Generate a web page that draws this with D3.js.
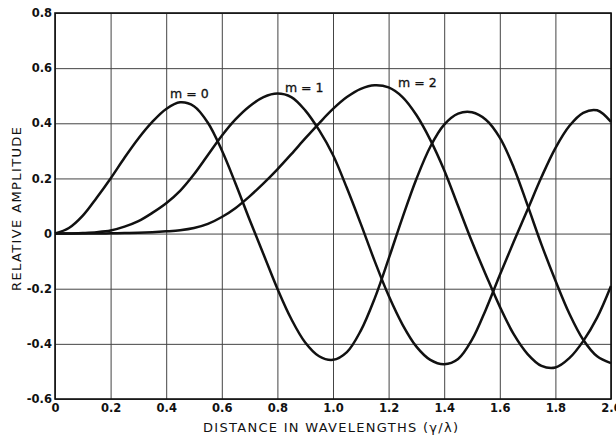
<!DOCTYPE html>
<html>
<head>
<meta charset="utf-8">
<script src="https://cdn.jsdelivr.net/npm/d3@7"></script>
<style>
  html, body { margin: 0; padding: 0; background: #fff; }
  svg { display: block; }
</style>
</head>
<body>
<svg id="chart" width="616" height="436"></svg>
<script>
// Distance from the source, in wavelengths (r/λ)
const distance = [
  0.00, 0.05, 0.10, 0.15, 0.20, 0.25, 0.30, 0.35, 0.40, 0.45,
  0.50, 0.55, 0.60, 0.65, 0.70, 0.75, 0.80, 0.85, 0.90, 0.95,
  1.00, 1.05, 1.10, 1.15, 1.20, 1.25, 1.30, 1.35, 1.40, 1.45,
  1.50, 1.55, 1.60, 1.65, 1.70, 1.75, 1.80, 1.85, 1.90, 1.95, 2.00
];

// Relative amplitude for each mode order m
const amplitudeM0 = [
  0.000, 0.020, 0.065, 0.130, 0.200, 0.275, 0.345, 0.405, 0.452, 0.476,
  0.462, 0.402, 0.302, 0.180, 0.050, -0.075, -0.200, -0.310, -0.395, -0.445,
  -0.458, -0.430, -0.352, -0.235, -0.092, 0.058, 0.198, 0.315, 0.395, 0.435,
  0.440, 0.413, 0.348, 0.240, 0.102, -0.040, -0.170, -0.290, -0.385, -0.445, -0.470
];
const amplitudeM1 = [
  0.000, 0.000, 0.002, 0.005, 0.011, 0.025, 0.045, 0.075, 0.110, 0.155,
  0.215, 0.285, 0.355, 0.415, 0.462, 0.495, 0.508, 0.495, 0.447, 0.375,
  0.285, 0.165, 0.035, -0.100, -0.225, -0.330, -0.410, -0.458, -0.474, -0.455,
  -0.385, -0.275, -0.150, -0.030, 0.087, 0.205, 0.310, 0.390, 0.438, 0.447, 0.405
];
const amplitudeM2 = [
  0.000, 0.000, 0.000, 0.000, 0.001, 0.002, 0.003, 0.005, 0.008, 0.012,
  0.020, 0.035, 0.060, 0.093, 0.135, 0.182, 0.233, 0.288, 0.345, 0.400,
  0.452, 0.495, 0.525, 0.538, 0.530, 0.495, 0.430, 0.340, 0.230, 0.100,
  -0.030, -0.150, -0.265, -0.365, -0.437, -0.480, -0.486, -0.452, -0.390, -0.305, -0.190
];

const seriesLabels = ["m = 0", "m = 1", "m = 2"];

// Axis ticks
const xTickValues = [0, 0.2, 0.4, 0.6, 0.8, 1.0, 1.2, 1.4, 1.6, 1.8, 2.0];
const xTickLabels = ["0", "0.2", "0.4", "0.6", "0.8", "1.0", "1.2", "1.4", "1.6", "1.8", "2.0"];
const yTickValues = [-0.6, -0.4, -0.2, 0, 0.2, 0.4, 0.6, 0.8];
const yTickLabels = ["-0.6", "-0.4", "-0.2", "0", "0.2", "0.4", "0.6", "0.8"];

const svg = d3.select("#chart");
const plotLeft = 55, plotRight = 611, plotTop = 13, plotBottom = 399;

const x = d3.scaleLinear().domain([0, 2]).range([plotLeft, plotRight]);
const y = d3.scaleLinear().domain([-0.6, 0.8]).range([plotBottom, plotTop]);

const font = "'DejaVu Sans', 'Liberation Sans', sans-serif";

// Vertical grid + x tick labels
const xAxis = svg.append("g")
  .attr("transform", `translate(0,${plotBottom})`)
  .call(d3.axisBottom(x)
    .tickValues(xTickValues)
    .tickFormat((d, i) => xTickLabels[i])
    .tickSize(-(plotBottom - plotTop))
    .tickPadding(5));
xAxis.select(".domain").remove();
xAxis.selectAll(".tick line").attr("stroke", "#444").attr("stroke-width", 1);
xAxis.selectAll(".tick text")
  .attr("font-family", font).attr("font-size", 11.5).attr("font-weight", "bold")
  .attr("fill", "#111");

// Horizontal grid + y tick labels
const yAxis = svg.append("g")
  .attr("transform", `translate(${plotLeft},0)`)
  .call(d3.axisLeft(y)
    .tickValues(yTickValues)
    .tickFormat((d, i) => yTickLabels[i])
    .tickSize(-(plotRight - plotLeft))
    .tickPadding(3));
yAxis.select(".domain").remove();
yAxis.selectAll(".tick line").attr("stroke", "#444").attr("stroke-width", 1);
yAxis.selectAll(".tick text")
  .attr("font-family", font).attr("font-size", 11.5).attr("font-weight", "bold")
  .attr("fill", "#111");

// Plot frame
svg.append("rect")
  .attr("x", plotLeft).attr("y", plotTop)
  .attr("width", plotRight - plotLeft).attr("height", plotBottom - plotTop)
  .attr("fill", "none").attr("stroke", "#111").attr("stroke-width", 1.6);

// Curves
const series = [amplitudeM0, amplitudeM1, amplitudeM2];
const line = d3.line()
  .x(d => x(d[0]))
  .y(d => y(d[1]))
  .curve(d3.curveCatmullRom.alpha(0.5));

svg.append("g").selectAll("path")
  .data(series)
  .join("path")
  .attr("d", vals => line(distance.map((r, i) => [r, vals[i]])))
  .attr("fill", "none")
  .attr("stroke", "#111")
  .attr("stroke-width", 2.5)
  .attr("stroke-linejoin", "round");

// Curve labels, placed above each first peak
const labelSpots = [[0.414, 0.49], [0.827, 0.514], [1.234, 0.531]];
svg.append("g").selectAll("text")
  .data(seriesLabels)
  .join("text")
  .attr("x", (d, i) => x(labelSpots[i][0]))
  .attr("y", (d, i) => y(labelSpots[i][1]))
  .attr("font-family", font)
  .attr("font-size", 12.5)
  .attr("fill", "#111")
  .attr("stroke", "#111")
  .attr("stroke-width", 0.3)
  .text(d => d);

// Axis titles
svg.append("text")
  .attr("x", 203).attr("y", 432)
  .attr("font-family", font).attr("font-size", 13)
  .attr("fill", "#111")
  .attr("textLength", 255).attr("lengthAdjust", "spacing")
  .text("DISTANCE IN WAVELENGTHS (γ/λ)");

svg.append("text")
  .attr("transform", "translate(21,291) rotate(-90)")
  .attr("font-family", font).attr("font-size", 13)
  .attr("fill", "#111")
  .attr("textLength", 164).attr("lengthAdjust", "spacing")
  .text("RELATIVE AMPLITUDE");
</script>
</body>
</html>
